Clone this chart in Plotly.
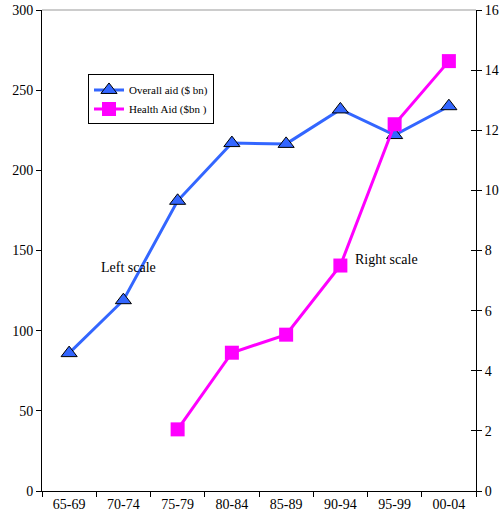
import plotly.graph_objects as go

periods = ["65-69", "70-74", "75-79", "80-84", "85-89", "90-94", "95-99", "00-04"]
overall_aid = [86, 119, 181, 217, 216.5, 238, 222, 240]
health_periods = ["75-79", "80-84", "85-89", "90-94", "95-99", "00-04"]
health_aid = [2.05, 4.6, 5.2, 7.5, 12.2, 14.3]

font = "Liberation Serif"
fig = go.Figure()
fig.add_trace(go.Scatter(
    x=periods, y=overall_aid, name="Overall aid ($ bn)", mode="lines+markers",
    line=dict(color="#3366FF", width=3),
    marker=dict(symbol="triangle-up", size=14, color="#3366FF",
                line=dict(color="black", width=1)),
    yaxis="y"))
fig.add_trace(go.Scatter(
    x=health_periods, y=health_aid, name="Health Aid ($bn )", mode="lines+markers",
    line=dict(color="#FF00FF", width=3),
    marker=dict(symbol="square", size=14, color="#FF00FF"),
    yaxis="y2"))
fig.add_trace(go.Scatter(x=[], y=[], yaxis="y3", showlegend=False, hoverinfo="skip"))

fig.update_layout(
    width=504, height=520,
    margin=dict(l=42, r=28, t=10, b=29, autoexpand=False),
    paper_bgcolor="white", plot_bgcolor="white",
    font=dict(family=font, size=14, color="black"),
    showlegend=True,
    legend=dict(x=0.106, y=0.866, xanchor="left", yanchor="top",
                bordercolor="black", borderwidth=1, bgcolor="white",
                font=dict(family=font, size=11), tracegroupgap=0,
                itemwidth=30),
    xaxis=dict(type="category", categoryorder="array", categoryarray=periods,
               range=[-0.5, 7.5], tickson="boundaries", ticks="outside",
               ticklen=5, tickcolor="black", showline=True, linecolor="black",
               linewidth=1, showgrid=False, zeroline=False, automargin=False),
    yaxis=dict(range=[0, 300], dtick=50, ticks="outside", ticklen=5,
               tickcolor="black", showline=True, linecolor="black",
               linewidth=1, showgrid=False, zeroline=False, automargin=False),
    yaxis2=dict(range=[0, 16], dtick=2, overlaying="y", side="right",
                ticks="outside", ticklen=5, tickcolor="black", showline=True,
                linecolor="black", linewidth=1, showgrid=False, zeroline=False,
                automargin=False),
    yaxis3=dict(range=[0, 16], dtick=2, overlaying="y", side="right",
                ticks="inside", ticklen=5, tickcolor="black", showline=False,
                showticklabels=False, showgrid=False, zeroline=False,
                automargin=False),
    annotations=[
        dict(text="Left scale", x=(128 - 42) / 434, y=(491 - 267) / 481, xref="paper",
             yref="paper", xanchor="center", yanchor="middle", showarrow=False,
             font=dict(family=font, size=14)),
        dict(text="Right scale", x=(386 - 42) / 434, y=(491 - 259) / 481, xref="paper",
             yref="paper", xanchor="center", yanchor="middle", showarrow=False,
             font=dict(family=font, size=14)),
    ],
    shapes=[dict(type="line", xref="paper", yref="paper", x0=0, x1=1, y0=1, y1=1,
                 line=dict(color="#999999", width=1))],
)
fig.write_html("out.html", config={"displayModeBar": False},
               post_script="document.body.style.margin='0';document.body.style.overflow='hidden';")
